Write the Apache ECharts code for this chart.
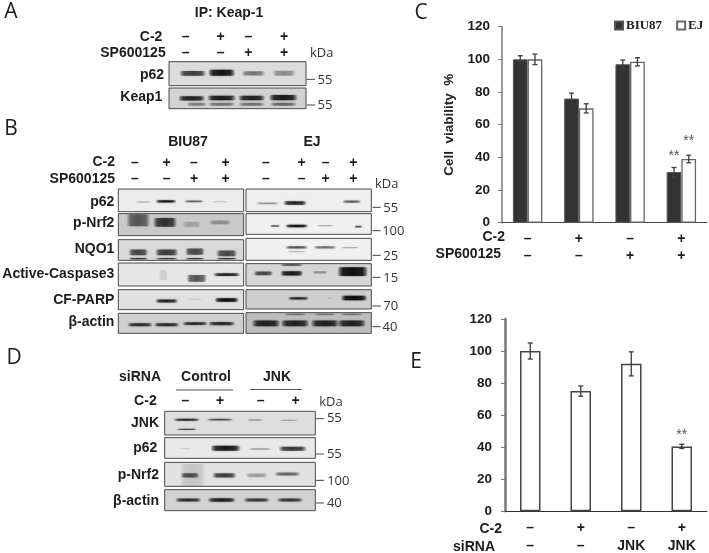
<!DOCTYPE html>
<html><head><meta charset="utf-8">
<style>html,body{margin:0;padding:0;background:#fff}#c{width:709px;height:553px}</style>
<script src="https://cdn.jsdelivr.net/npm/echarts@6/dist/echarts.min.js"></script>
</head><body><div id="c"></div>
<script>
// ---- chart data ----
const c2RowC = ['–','+','–','+'];
const spRowC = ['–','–','+','+'];
const biu87 = [100,76,97,31];
const biu87Err = [2.2,3.3,2.6,2.8];
const ej = [100,70,98.5,39];
const ejErr = [3.2,2.8,2.5,2.3];
const biu87Sig = [null,null,null,42.5];
const ejSig = [null,null,null,52];
const c2RowE = ['–','+','–','+'];
const siRowE = ['–','–','JNK','JNK'];
const viabilityE = [100,75,92,40.5];
const viabilityEErr = [5,3.2,7.5,1.3];
const viabilityESig = [null,null,null,49.5];
const yTicks = {min:0,max:120,interval:20};

// ---- blot panels (decorative imagery): background grey, bands ----
const panelsA = [
 {box:[507,185,918,257],bg:'#dcdcdc',bands:[[578,220,80,14,.7],[665,218,80,18,.95],[760,220,70,13,.45],[852,220,70,15,.35]]},
 {box:[507,264,918,326],bg:'#d2d2d2',bands:[[575,295,80,13,.85],[665,294,85,14,.9],[755,294,80,14,.85],[850,293,85,16,.9],[590,313,60,9,.4],[665,313,80,9,.45],[755,313,80,9,.45],[850,313,80,9,.5]]}
];
const panelsB = [
 {box:[355,222,731,290],bg:'#ececec',bands:[[430,261,46,3,.35],[498,259,62,7,.95],[582,259,58,5,.6],[660,260,46,3,.22]]},
 {box:[355,296,731,362],bg:'#c9c9c9',bands:[[415,316,70,36,.55],[495,322,70,26,.75],[575,328,55,16,.2],[660,322,66,11,.3]]},
 {box:[355,374,731,436],bg:'#dadada',bands:[[415,412,58,17,.65],[500,412,68,17,.7],[585,410,58,19,.65],[680,415,62,17,.65],[415,431,58,4,.85],[500,431,66,4,.8],[585,431,58,4,.8],[680,431,62,4,.8]]},
 {box:[355,444,731,513],bg:'#e6e6e6',bands:[[590,490,60,20,.6],[680,479,80,8,.85],[490,480,26,30,.1]]},
 {box:[355,524,731,584],bg:'#e0e0e0',bands:[[500,558,68,9,.85],[585,553,46,3,.13],[680,555,72,11,1]]},
 {box:[355,595,731,655],bg:'#cfcfcf',bands:[[420,629,76,9,.8],[500,629,76,9,.8],[585,626,76,8,.8],[665,626,80,10,.8]]},
 {box:[738,222,1114,290],bg:'#efefef',bands:[[802,265,68,5,.4],[885,264,70,11,.85],[1055,260,56,7,.6]]},
 {box:[738,296,1114,358],bg:'#f0f0f0',bands:[[825,333,30,5,.65],[890,333,68,8,.95],[975,332,50,4,.3],[1075,335,24,5,.65]]},
 {box:[738,370,1114,436],bg:'#f0f0f0',bands:[[890,397,68,7,.65],[890,410,56,4,.25],[975,397,68,7,.55],[1050,398,56,4,.3]]},
 {box:[738,446,1114,513],bg:'#d6d6d6',bands:[[790,475,58,11,.65],[875,475,68,13,.9],[875,450,68,5,.7],[960,472,46,7,.35],[1058,470,90,26,1]]},
 {box:[738,524,1114,582],bg:'#cecece',bands:[[895,550,62,7,.85],[1062,549,78,13,1],[990,550,12,3,.18]]},
 {box:[738,593,1114,655],bg:'#bdbdbd',bands:[[798,625,84,17,.85],[885,625,84,17,.85],[975,625,84,17,.85],[1055,625,84,17,.85],[885,598,66,5,.4],[975,598,66,5,.4],[1055,598,66,5,.4]]}
];
const panelsD = [
 {box:[494,214,946,285],bg:'#dedede',bands:[[560,239,78,6,.85],[560,268,62,4,.7],[660,239,78,5,.65],[765,240,46,4,.35],[865,241,56,3,.35]]},
 {box:[494,293,946,355],bg:'#e9e9e9',bands:[[555,326,34,3,.18],[677,325,90,15,.9],[780,327,68,4,.35],[878,326,84,12,.75]]},
 {box:[494,367,946,439],bg:'#e2e2e2',bands:[[578,405,76,68,.13],[570,406,56,13,.6],[673,406,72,13,.7],[770,406,66,11,.3],[862,402,78,9,.55]]},
 {box:[494,449,946,512],bg:'#d2d2d2',bands:[[565,480,78,9,.8],[665,480,84,10,.85],[770,480,78,9,.75],[870,480,78,9,.75]]}
];
// ---- blot text ----
const signsA = [[557,110,'–'],[662,110,'+'],[745,110,'–'],[852,110,'+'],[557,160,'–'],[662,160,'–'],[745,160,'+'],[852,160,'+']];
const signsB = [[405,144,'–'],[500,144,'+'],[582,144,'–'],[677,144,'+'],[798,144,'–'],[905,144,'+'],[977,144,'–'],[1060,144,'+'],
                [405,193,'–'],[500,193,'–'],[582,193,'+'],[677,193,'+'],[798,193,'–'],[905,193,'–'],[977,193,'+'],[1060,193,'+']];
const signsD = [[556,183,'–'],[660,183,'+'],[782,183,'–'],[887,183,'+']];
const labelsA = [[487,110,'C-2'],[497,160,'SP600125'],[492,225,'p62'],[487,290,'Keap1']];
const labelsB = [[345,142,'C-2'],[345,192,'SP600125'],[343,260,'p62'],[343,324,'p-Nrf2'],[343,402,'NQO1'],[343,478,'Active-Caspase3'],[343,556,'CF-PARP'],[343,620,'β-actin']];
const labelsD = [[483,112,'siRNA'],[470,183,'C-2'],[477,250,'JNK'],[472,325,'p62'],[477,405,'p-Nrf2'],[477,484,'β-actin']];
const kdaA = [[965,160,'kDa',null],[975,240,'55',238],[975,317,'55',315]];
const kdaB = [[1160,208,'kDa',null],[1172,279,'55',277],[1180,349,'100',347],[1172,423,'25',421],[1172,489,'15',487],[1172,575,'70',573],[1170,637,'40',635]];
const kdaD = [[993,187,'kDa',null],[1003,236,'55',236],[1003,344,'55',342],[1015,423,'100',421],[1003,491,'40',489]];

const els = [];
const BOLD = 'bold 14px "Liberation Sans", Arial, sans-serif';
const REG = '13px "Open Sans", sans-serif';
function txt(x,y,s,font,align,fill){
  els.push({type:'text',silent:true,x,y,style:{text:s,font,fill:fill||'#1c1c1c',align:align||'center',verticalAlign:'middle'}});
}
function bandFill(a){
  const c=k=>'rgba(15,15,15,'+(a*k).toFixed(3)+')';
  return {type:'linear',x:0,y:0,x2:1,y2:0,colorStops:[{offset:0,color:c(.1)},{offset:.18,color:c(.85)},{offset:.5,color:c(1)},{offset:.82,color:c(.85)},{offset:1,color:c(.1)}]};
}
function panels(list,oy){
  list.forEach(p=>{
    const [x0,y0,x1,y1]=p.box;
    const bx=x0/3,by=y0/3+oy,bw=(x1-x0)/3,bh=(y1-y0)/3;
    els.push({type:'rect',silent:true,shape:{x:bx,y:by,width:bw,height:bh},style:{fill:p.bg}});
    p.bands.forEach(([cx,cy,w,h,a])=>{
      els.push({type:'rect',silent:true,
        shape:{x:(cx-w/2)/3,y:(cy-h/2)/3+oy,width:w/3,height:h/3,r:Math.min(h/6,2)},
        style:{fill:bandFill(a),shadowBlur:2,shadowColor:'rgba(15,15,15,'+(a*.6).toFixed(3)+')'}});
    });
    els.push({type:'rect',silent:true,shape:{x:bx,y:by,width:bw,height:bh},style:{fill:'none',stroke:'#4a4a4a',lineWidth:1}});
  });
}
function signs(list,oy){list.forEach(([x,y,s])=>txt(x/3,y/3+oy,s,BOLD));}
function labels(list,oy){list.forEach(([x,y,s])=>txt(x/3,y/3+oy,s,BOLD,'right'));}
function kda(list,oy,tx0,tx1){
  list.forEach(([x,y,s,ty])=>{
    txt(x/3,y/3+oy,s,REG,'center','#333');
    if(ty!==null) els.push({type:'line',silent:true,shape:{x1:tx0/3,y1:ty/3+oy,x2:tx1/3,y2:ty/3+oy},style:{stroke:'#444',lineWidth:1}});
  });
}
// Panel letters
const LET='21px "Open Sans", sans-serif';
txt(11,12,'A',LET); txt(11,129,'B',LET); txt(421,13,'C',LET); txt(14,358,'D',LET); txt(416,362,'E',LET);
// A
txt(229,13,'IP: Keap-1',BOLD);
panels(panelsA,0); signs(signsA,0); labels(labelsA,0); kda(kdaA,0,920,945);
// B
txt(188,142,'BIU87',BOLD); txt(312,142,'EJ',BOLD);
panels(panelsB,115); signs(signsB,115); labels(labelsB,115); kda(kdaB,115,1118,1142);
// D
txt(206,377,'Control',BOLD); txt(277,377,'JNK',BOLD);
els.push({type:'line',silent:true,shape:{x1:176,y1:390,x2:233,y2:390},style:{stroke:'#555',lineWidth:1}});
els.push({type:'line',silent:true,shape:{x1:250,y1:389.5,x2:302,y2:389.5},style:{stroke:'#555',lineWidth:1}});
panels(panelsD,340); signs(signsD,340); labels(labelsD,340); kda(kdaD,340,948,972);
// C / E row labels
txt(505,237,'C-2',BOLD,'right'); txt(501,254,'SP600125',BOLD,'right');
txt(502,529,'C-2',BOLD,'right'); txt(495,547,'siRNA',BOLD,'right');

// ---- charts ----
function errSeries(vals,errs,sig,offset,xi){
  return {type:'custom',coordinateSystem:'cartesian2d',xAxisIndex:xi,yAxisIndex:xi,silent:true,z:5,clip:false,
    data:vals.map((v,i)=>[i,v,errs[i],sig[i]===null?-1:sig[i]]),
    encode:{x:0,y:1},
    renderItem(params,api){
      const i=api.value(0),v=api.value(1),e=api.value(2),s=api.value(3);
      const x=api.coord([i,v])[0]+offset;
      const hi=api.coord([i,v+e])[1],lo=api.coord([i,v-e])[1];
      const st={stroke:'#3c3c3c',lineWidth:1.3};
      const ch=[
       {type:'line',shape:{x1:x,y1:hi,x2:x,y2:lo},style:st},
       {type:'line',shape:{x1:x-2.5,y1:hi,x2:x+2.5,y2:hi},style:st},
       {type:'line',shape:{x1:x-2.5,y1:lo,x2:x+2.5,y2:lo},style:st}];
      if(s>=0) ch.push({type:'text',x:x,y:api.coord([i,s])[1]+3,
        style:{text:'**',font:'14px "Liberation Sans",sans-serif',fill:'#555',align:'center',verticalAlign:'middle'}});
      return {type:'group',children:ch};
    }};
}
const tickFont={fontFamily:'"Liberation Sans",Arial,sans-serif',fontWeight:'bold',fontSize:13.5,color:'#1c1c1c'};
const option={
  animation:false,backgroundColor:'#fff',
  graphic:{elements:els},
  legend:{data:[{name:'BIU87',icon:'rect'},{name:'EJ',icon:'rect'}],left:614,top:19,padding:0,width:95,itemWidth:8,itemHeight:8,itemGap:14,selectedMode:false,
    textStyle:{fontFamily:'"Liberation Serif",serif',fontWeight:'bold',fontSize:13,color:'#222',padding:[0,0,0,-2]}},
  grid:[{left:502,top:26.7,width:205,height:196,outerBoundsMode:'none'},{left:505,top:319,width:202,height:192.3,outerBoundsMode:'none'}],
  xAxis:[
   {gridIndex:0,type:'category',data:c2RowC.map((v,i)=>v+'\n'+spRowC[i]),
    axisLine:{lineStyle:{color:'#444',width:1}},axisTick:{show:false},
    axisLabel:{interval:0,margin:8,lineHeight:17,fontFamily:'"Liberation Sans",sans-serif',fontWeight:'bold',fontSize:14,color:'#1c1c1c'}},
   {gridIndex:1,type:'category',data:c2RowE.map((v,i)=>v+'\n'+siRowE[i]),
    axisLine:{lineStyle:{color:'#333',width:1}},axisTick:{show:false},
    axisLabel:{interval:0,margin:8,lineHeight:18,fontFamily:'"Liberation Sans",sans-serif',fontWeight:'bold',fontSize:14,color:'#1c1c1c'}}
  ],
  yAxis:[
   {gridIndex:0,type:'value',...yTicks,splitLine:{show:false},
    name:'Cell  viability  %',nameLocation:'middle',nameGap:46,nameRotate:90,
    nameTextStyle:{fontFamily:'"Liberation Sans",sans-serif',fontWeight:'bold',fontSize:13.5,color:'#222'},
    axisLine:{show:true,lineStyle:{color:'#777',width:1.5}},axisTick:{show:true,length:4,lineStyle:{color:'#777'}},
    axisLabel:{margin:12,...tickFont}},
   {gridIndex:1,type:'value',...yTicks,splitLine:{show:false},
    axisLine:{show:true,lineStyle:{color:'#777',width:2.5}},axisTick:{show:true,length:4,lineStyle:{color:'#777'}},
    axisLabel:{margin:13,...tickFont}}
  ],
  series:[
   {name:'BIU87',type:'bar',xAxisIndex:0,yAxisIndex:0,data:biu87,barWidth:14.7,barGap:0,
    itemStyle:{color:'#333',borderColor:'#555',borderWidth:1}},
   {name:'EJ',type:'bar',xAxisIndex:0,yAxisIndex:0,data:ej,barWidth:14.7,barGap:0,
    itemStyle:{color:'#fff',borderColor:'#666',borderWidth:1.3}},
   errSeries(biu87,biu87Err,biu87Sig,-7.35,0),
   errSeries(ej,ejErr,ejSig,7.35,0),
   {name:'Viability',type:'bar',xAxisIndex:1,yAxisIndex:1,data:viabilityE,barWidth:20.5,
    itemStyle:{color:'#fff',borderColor:'#444',borderWidth:1.5}},
   errSeries(viabilityE,viabilityEErr,viabilityESig,0,1)
  ]
};
echarts.init(document.getElementById('c'),null,{renderer:'canvas'}).setOption(option);
</script></body></html>
